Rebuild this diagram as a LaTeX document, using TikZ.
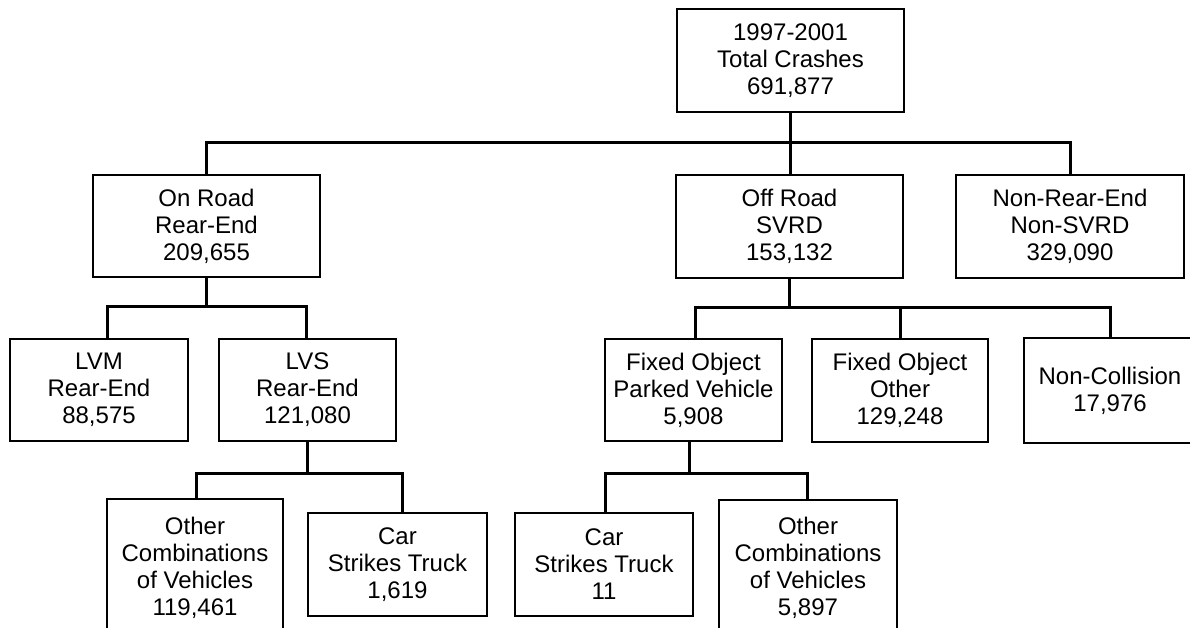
\documentclass[tikz,border=0pt]{standalone}
\usepackage{fontspec}
\setmainfont{Liberation Sans}
\begin{document}
\begin{tikzpicture}[x=1pt,y=-1pt,
  box/.style={draw, line width=1.8pt, rectangle, inner sep=0pt, outer sep=0pt,
    align=center, font=\fontsize{24}{27}\selectfont},
  conn/.style={line width=3pt}]
\useasboundingbox (0,0) rectangle (1190,628);
\clip (0,0) rectangle (1190,628);
% level 0
\node[box, minimum width=227pt, minimum height=103pt] (top) at (790.5,60.5) {1997-2001\\Total Crashes\\691,877};
% level 1
\node[box, minimum width=227pt, minimum height=102pt] (onroad) at (206.5,226) {On Road\\Rear-End\\209,655};
\node[box, minimum width=227pt, minimum height=103pt] (offroad) at (789.5,226.5) {Off Road\\SVRD\\153,132};
\node[box, minimum width=228pt, minimum height=103pt] (nonrear) at (1070,226.5) {Non-Rear-End\\Non-SVRD\\329,090};
% level 2
\node[box, minimum width=178pt, minimum height=102pt] (lvm) at (99,390) {LVM\\Rear-End\\88,575};
\node[box, minimum width=177pt, minimum height=102pt] (lvs) at (307.5,390) {LVS\\Rear-End\\121,080};
\node[box, minimum width=177pt, minimum height=102pt] (fopv) at (693.5,390) {Fixed Object\\Parked Vehicle\\5,908};
\node[box, minimum width=176pt, minimum height=103pt] (foo) at (900,390.5) {Fixed Object\\Other\\129,248};
\node[box, minimum width=172pt, minimum height=105pt] (noncol) at (1110,390.5) {Non-Collision\\17,976};
% level 3
\node[box, minimum width=176pt, minimum height=137pt] (othcL) at (195,567.5) {Other\\Combinations\\of Vehicles\\119,461};
\node[box, minimum width=179pt, minimum height=103pt] (cstL) at (397.5,564.5) {Car\\Strikes Truck\\1,619};
\node[box, minimum width=178pt, minimum height=103pt] (cstR) at (604,564.5) {Car\\Strikes Truck\\11};
\node[box, minimum width=178pt, minimum height=136pt] (othcR) at (808,568) {Other\\Combinations\\of Vehicles\\5,897};
% bus coordinates
\coordinate (bus1) at (0,143);
\coordinate (j2a) at (107,306);
\coordinate (j2b) at (306,306);
\coordinate (bus2R) at (0,307);
\coordinate (j2c) at (695,307);
\coordinate (j2d) at (1110,307);
\coordinate (j3a) at (196,473);
\coordinate (j3b) at (402,473);
\coordinate (j3c) at (605,473);
\coordinate (j3d) at (807,473);
\coordinate (j3m) at (689,473);
% connectors level 0 -> 1
\draw[conn] (top.south) -- (top.south |- offroad.north);
\draw[conn] (onroad.north) |- (nonrear.north |- bus1) -- (nonrear.north);
% onroad -> lvm, lvs
\draw[conn] (onroad.south) -- (onroad.south |- j2a);
\draw[conn] (lvm.north -| j2a) -- (j2a) -- (j2b) -- (lvs.north -| j2b);
% offroad -> fopv, foo, noncol
\draw[conn] (offroad.south) -- (offroad.south |- bus2R);
\draw[conn] (fopv.north -| j2c) -- (j2c) -- (j2d) -- (noncol.north -| j2d);
\draw[conn] (foo.north) -- (foo.north |- bus2R);
% lvs -> othcL, cstL
\draw[conn] (lvs.south) -- (lvs.south |- j3a);
\draw[conn] (othcL.north -| j3a) -- (j3a) -- (j3b) -- (cstL.north -| j3b);
% fopv -> cstR, othcR
\draw[conn] (fopv.south -| j3m) -- (j3m);
\draw[conn] (cstR.north -| j3c) -- (j3c) -- (j3d) -- (othcR.north -| j3d);
\end{tikzpicture}
\end{document}
